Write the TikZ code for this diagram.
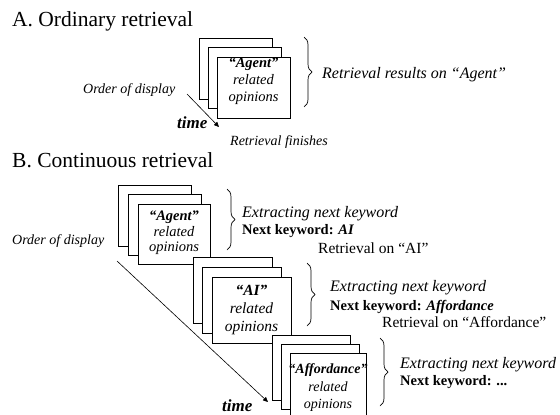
\documentclass[tikz,border=0pt]{standalone}
\usepackage{fontspec}
\setmainfont{Liberation Serif}
\usetikzlibrary{decorations.pathreplacing,arrows.meta}
\newcommand\fsz[2]{\fontsize{#1}{#2}\selectfont}
\begin{document}
\begin{tikzpicture}[x=1pt,y=-1pt,
  card/.style={draw, line width=0.8pt, fill=white, inner sep=0pt, outer sep=0pt, anchor=north west},
  smallcard/.style={card, minimum width=73pt, minimum height=61pt},
  bigcard/.style={card, minimum width=79pt, minimum height=66pt},
  lbl/.style={anchor=base west, inner sep=0pt},
  title/.style={lbl, font=\fsz{21.5}{24}},
  note/.style={lbl, font=\fsz{16}{18}\itshape},
  keyw/.style={lbl, font=\fsz{14.5}{17}\bfseries},
  retr/.style={lbl, font=\fsz{15.5}{18}},
  small/.style={lbl, font=\fsz{14}{16}\itshape},
  timelbl/.style={lbl, font=\fsz{17}{20}\bfseries\itshape},
  cardtext/.style={align=center, inner sep=0pt},
  brc/.style={decorate, decoration={brace, amplitude=8pt}, line width=0.7pt},
  tarrow/.style={-{Triangle[length=5pt,width=4.5pt]}, line width=0.6pt}]
\useasboundingbox (0,0) rectangle (560,415);

% ---------- A. Ordinary retrieval ----------
\node[title] (titleA) at (12,27) {A. Ordinary retrieval};

\node[smallcard] (a1) at (199,38) {};
\node[smallcard] (a2) at (208,47) {};
\node[smallcard] (a3) at (217,57) {};
\node[cardtext, font=\fsz{14.5}{17}\itshape] (ta) at (a3.center |- 0,81)
  {\textbf{“Agent”}\\related\\opinions};

\draw[brc] (304,37) -- (304,107);
\node[note] (resA) at (322,78) {Retrieval results on “Agent”};

\node[small] (ordA) at (83,93) {Order of display};
\node[timelbl] (timeA) at (177,128) {time};
\node[small] (finA) at (230,145) {Retrieval finishes};
\coordinate (sA) at (187,94);
\coordinate (eA) at (219,127);
\draw[tarrow] (sA) -- (eA);

% ---------- B. Continuous retrieval ----------
\node[title] (titleB) at (12,167) {B. Continuous retrieval};

% first stack
\node[smallcard] (b1) at (118,185) {};
\node[smallcard] (b2) at (128,194) {};
\node[smallcard, minimum width=72pt, minimum height=60pt] (b3) at (138,204) {};
\node[cardtext, font=\fsz{14.5}{15.5}\itshape] (tb) at (b3.center |- 0,233)
  {\textbf{“Agent”}\\related\\opinions};
\draw[brc] (227,189) -- (227,250);
\node[note] (exB1) at (242,217) {Extracting next keyword};
\node[keyw] (nkB1) at (242,234) {Next keyword: \textit{AI}};
\node[retr] (rtB1) at (318,253) {Retrieval on “AI”};

% second stack
\node[bigcard] (c1) at (193,257) {};
\node[bigcard] (c2) at (202,267) {};
\node[bigcard] (c3) at (212,277) {};
\node[cardtext, font=\fsz{15.5}{18}\itshape] (tc) at (c3.center |- 0,310)
  {\textbf{“AI”}\\related\\opinions};
\draw[brc] (307,263) -- (307,326);
\node[note] (exB2) at (330,291) {Extracting next keyword};
\node[keyw] (nkB2) at (330,310) {Next keyword: \textit{Affordance}};
\node[retr] (rtB2) at (382,327) {Retrieval on “Affordance”};

% third stack
\node[bigcard, minimum width=78pt, minimum height=65pt] (d1) at (272,335) {};
\node[bigcard, minimum width=78pt, minimum height=65pt] (d2) at (281,344) {};
\node[bigcard, minimum width=76pt, minimum height=65pt] (d3) at (290,353) {};
\node[cardtext, font=\fsz{14}{17.5}\itshape] (td) at (d3.center |- 0,388)
  {\textbf{“Affordance”}\\related\\opinions};
\draw[brc] (380,338) -- (380,406);
\node[note] (exB3) at (400,368) {Extracting next keyword};
\node[keyw] (nkB3) at (400,385) {Next keyword: ...};

\node[small] (ordB) at (12,244) {Order of display};
\node[timelbl] (timeB) at (222,411) {time};
\coordinate (sB) at (117,261);
\coordinate (eB) at (268,402);
\draw[tarrow] (sB) -- (eB);
\end{tikzpicture}
\end{document}
